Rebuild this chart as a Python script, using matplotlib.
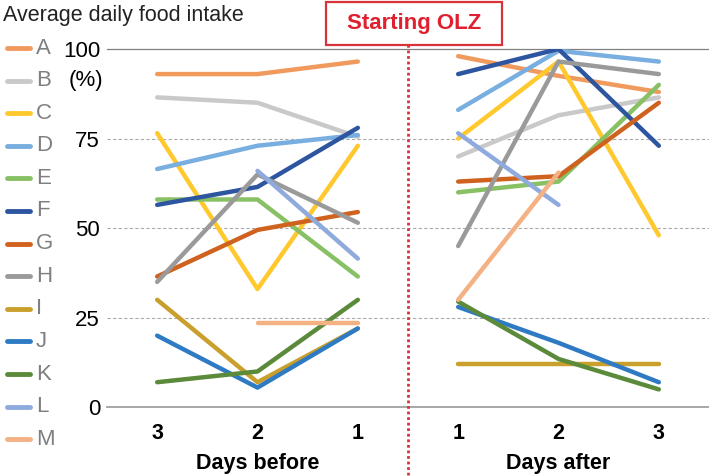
import numpy as np
import matplotlib
matplotlib.use("Agg")
import matplotlib.pyplot as plt
from matplotlib.lines import Line2D
from matplotlib.patches import Rectangle

plt.rcParams['font.family'] = ['Liberation Sans', 'DejaVu Sans']

nan = np.nan
tick_labels = ['3', '2', '1', '1', '2', '3']
labels = ['A', 'B', 'C', 'D', 'E', 'F', 'G', 'H', 'I', 'J', 'K', 'L', 'M']

# food intake (%) for days before / days after starting OLZ
before = {
    'A': [93, 93, 96.5],
    'B': [86.5, 85, 75.5],
    'C': [76.5, 33, 73],
    'D': [66.5, 73, 76],
    'E': [58, 58, 36.5],
    'F': [56.5, 61.5, 78],
    'G': [36.5, 49.5, 54.5],
    'H': [35, 65, 51.5],
    'I': [30, 7, 22],
    'J': [20, 5.5, 22],
    'K': [7, 10, 30],
    'L': [nan, 66, 41.5],
    'M': [nan, 23.5, 23.5],
}
after = {
    'A': [98, 92.5, 88],
    'B': [70, 81.5, 86.5],
    'C': [75, 96.5, 48],
    'D': [83, 99.5, 96.5],
    'E': [60, 63, 90],
    'F': [93, 100, 73],
    'G': [63, 64.5, 85],
    'H': [45, 96.5, 93],
    'I': [12, 12, 12],
    'J': [28, 18, 7],
    'K': [29.5, 13.5, 5],
    'L': [76.5, 56.5, nan],
    'M': [30, 65.5, nan],
}
colors = ['#F19A5E', '#C9C9C9', '#FFC92E', '#78AEE0', '#88C064', '#2E55A0',
          '#D0621F', '#9A9A9A', '#C9A02C', '#2E7BC4', '#5A8A3A', '#8FAADC', '#F4B183']

W, H = 709, 476
fig = plt.figure(figsize=(W / 100, H / 100), dpi=100)
ax_l, ax_r, ax_top, ax_bot = 107, 709, 49, 407.3
ax = fig.add_axes([ax_l / W, 1 - ax_bot / H, (ax_r - ax_l) / W, (ax_bot - ax_top) / H])

x_before = np.arange(3)
x_after = np.arange(3, 6)
for lab, c in zip(labels, colors):
    ax.plot(x_before, before[lab], color=c, lw=3.2, solid_capstyle='round', solid_joinstyle='round')
    ax.plot(x_after, after[lab], color=c, lw=3.2, solid_capstyle='round', solid_joinstyle='round')

ax.set_xlim(-0.5, 5.5)
ax.set_ylim(0, 100)
for s in ax.spines.values():
    s.set_visible(False)
for yv in [25, 50, 75]:
    ax.axhline(yv, color='#AAAAAA', lw=0.8, ls=(0, (3, 2)), zorder=0)
ax.axhline(100, color='#808080', lw=0.9, zorder=0, clip_on=False)
ax.axhline(0, color='#A0A0A0', lw=1.3, zorder=0, clip_on=False)

ax.set_xticks(range(6))
ax.set_xticklabels(tick_labels, fontsize=15.5, fontweight='bold')
ax.set_yticks([0, 25, 50, 75, 100])
ax.set_yticklabels(['0', '25', '50', '75', '100'], fontsize=16)
ax.tick_params(length=0)
ax.tick_params(axis='x', pad=11)
ax.tick_params(axis='y', pad=5)
ax.text(-0.535, 91.3, '(%)', fontsize=16, ha='right', va='center')

ax.text(1, -15.8, 'Days before', fontsize=15.5, fontweight='bold', ha='center', va='center')
ax.text(4, -15.8, 'Days after', fontsize=15.5, fontweight='bold', ha='center', va='center')

# dotted divider
ax.axvline(2.5, ymin=-0.19, ymax=1.012, color='#D9323A', lw=2, ls=(0, (1, 1)), clip_on=False)

# title and box
fig.text(3 / W, 1 - 16 / H, 'Average daily food intake', fontsize=15.5, color='#222222',
         ha='left', va='center')
fig.add_artist(Rectangle((326 / W, 1 - 45 / H), 176 / W, 43 / H, transform=fig.transFigure,
                         fill=False, edgecolor='#D9323A', lw=1.6))
fig.text(414 / W, 1 - 23.5 / H, 'Starting OLZ', fontsize=16, fontweight='bold',
         color='#E0202F', ha='center', va='center')

# legend
for i, (lab, c) in enumerate(zip(labels, colors)):
    yy = 1 - (48 + i * 32.6) / H
    fig.add_artist(Line2D([7 / W, 30 / W], [yy, yy], transform=fig.transFigure,
                          color=c, lw=3.5, solid_capstyle='round'))
    fig.text(36 / W, yy, lab, fontsize=16, color='#7F7F7F', ha='left', va='center')

fig.savefig('out.png', dpi=100)
